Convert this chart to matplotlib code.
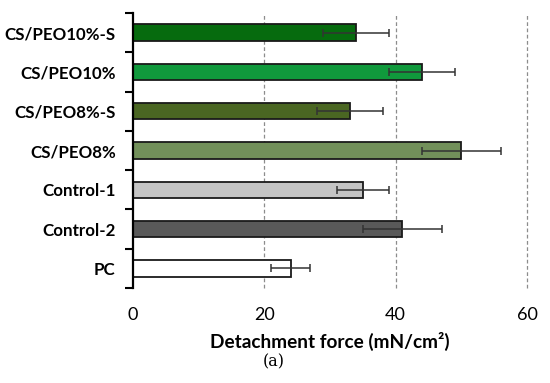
import matplotlib
matplotlib.use("Agg")
import matplotlib.pyplot as plt
import numpy as np

categories = ["CS/PEO10%-S", "CS/PEO10%", "CS/PEO8%-S", "CS/PEO8%", "Control-1", "Control-2", "PC"]
values = [34, 44, 33, 50, 35, 41, 24]
errors = [5, 5, 5, 6, 4, 6, 3]
colors = ["#066b0e", "#10993c", "#4a6622", "#72905a", "#c4c4c4", "#595959", "#ffffff"]
xticks = [0, 20, 40, 60]

fig = plt.figure(figsize=(5.5, 3.83), dpi=100)
ax = fig.add_axes([133/550, 1-288/383, (527-133)/550, (288-13)/383])

y = np.arange(len(categories))
for xv in xticks[1:]:
    ax.axvline(xv, color="#8c8c8c", linestyle=(0, (3, 2)), linewidth=0.9, zorder=0, clip_on=False)

ax.barh(y, values, height=0.42, color=colors, edgecolor="#1a1a1a", linewidth=1.3, zorder=2)
ax.errorbar(values, y, xerr=errors, fmt="none", ecolor="#333333", elinewidth=1.1,
            capsize=3, capthick=1.1, zorder=3)

ax.set_xlim(0, 60)
ax.set_ylim(len(categories) - 0.5, -0.5)
ax.set_yticks(y)
ax.set_yticklabels(categories, fontfamily="Lato", fontweight="bold", fontsize=12.2)
ax.set_yticks(np.arange(len(categories) + 1) - 0.5, minor=True)
ax.tick_params(axis="y", which="major", length=0, pad=12.5)
ax.tick_params(axis="y", which="minor", length=6, width=1.5, direction="out", color="black")
ax.set_xticks(xticks)
ax.set_xticklabels([str(v) for v in xticks], fontfamily="Lato", fontsize=13)
ax.tick_params(axis="x", length=0, pad=14)

for s in ["top", "right", "bottom"]:
    ax.spines[s].set_visible(False)
ax.spines["left"].set_linewidth(1.6)
ax.spines["left"].set_zorder(4)

ax.set_xlabel("Detachment force (mN/cm²)", fontfamily="Lato", fontweight="bold", fontsize=13.7, labelpad=6)
fig.text(274/550, 1-362/383, "(a)", ha="center", va="center", fontfamily="DejaVu Serif", fontsize=11.5)

fig.savefig("out.png", dpi=100)
